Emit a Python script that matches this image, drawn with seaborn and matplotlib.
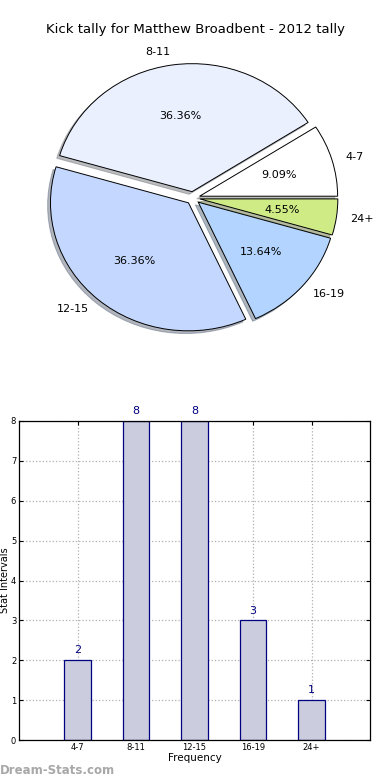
import matplotlib
matplotlib.use('Agg')
import matplotlib.pyplot as plt
import seaborn as sns
import pandas as pd

# Data
ranges = ['4-7', '8-11', '12-15', '16-19', '24+']
kicks = [2, 8, 8, 3, 1]
pie_colors = ['#ffffff', '#eaf0fe', '#c4d7fe', '#b3d4fe', '#cfeb86']

sns.set_style('white')
plt.rcParams['font.family'] = ['DejaVu Sans']
plt.rcParams['text.color'] = 'black'
plt.rcParams['axes.labelcolor'] = 'black'
plt.rcParams['xtick.color'] = 'black'
plt.rcParams['ytick.color'] = 'black'

fig = plt.figure(figsize=(3.9, 7.8), dpi=100)

# Pie chart
ax1 = fig.add_axes([0, 1 - 360 / 780, 1, 320 / 780])
ax1.pie(kicks, labels=ranges, colors=pie_colors, autopct='%1.2f%%',
        startangle=0, explode=[0.05] * len(kicks),
        shadow={'ox': -0.015, 'oy': -0.015, 'shade': 0.5},
        wedgeprops={'edgecolor': 'black', 'linewidth': 0.7},
        textprops={'fontsize': 8})
ax1.set_aspect('auto')
ax1.set_xlim(-193 / 138, 197 / 138)
ax1.set_ylim(-162 / 128, 158 / 128)
ax1.axis('off')
fig.text(0.5, 1 - 30 / 780, 'Kick tally for Matthew Broadbent - 2012 tally',
         ha='center', va='center', fontsize=9.5)

# Bar chart
ax2 = fig.add_axes([19 / 390, 40 / 780, 351 / 390, 319 / 780])
df = pd.DataFrame({'range': ranges, 'kicks': kicks})
sns.barplot(data=df, x='range', y='kicks', width=0.45, color='#ccccdf',
            saturation=1, edgecolor='#000080', linewidth=0.9, ax=ax2, zorder=2)
ax2.set_xlim(-1, 5)
ax2.set_ylim(0, 8)
ax2.set_yticks(range(0, 9))
ax2.grid(True, linestyle=':', color='#b0b0b0', linewidth=0.9, zorder=0)
ax2.set_axisbelow(True)
ax2.tick_params(direction='in', labelsize=6, length=3, top=True, right=True,
                bottom=True, left=True, pad=2)
for s in ax2.spines.values():
    s.set_color('black')
    s.set_linewidth(0.9)
for i, v in enumerate(kicks):
    ax2.text(i, v + 0.12, str(v), ha='center', va='bottom', color='#000080',
             fontsize=8, clip_on=False)
ax2.set_xlabel('Frequency', fontsize=7.5, labelpad=1)
ax2.set_ylabel('Stat Intervals', fontsize=7)
ax2.yaxis.set_label_coords(-0.027, 0.5)

fig.text(0.0, 1 - 770 / 780, 'Dream-Stats.com', ha='left', va='center',
         fontsize=8.5, color='#a8a8a8', fontweight='semibold')

fig.savefig('out.png', dpi=100)
